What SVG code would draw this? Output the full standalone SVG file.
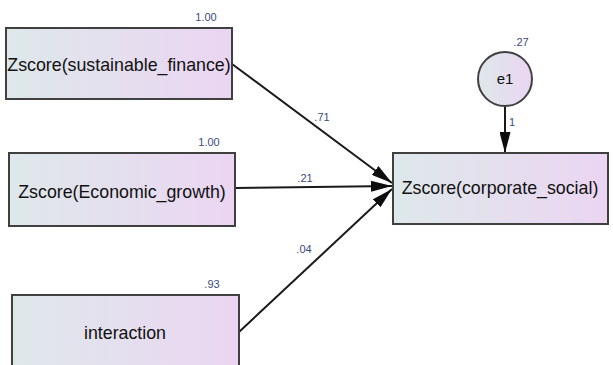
<svg xmlns="http://www.w3.org/2000/svg" width="613" height="365" viewBox="0 0 613 365">
  <defs>
    <linearGradient id="fill" x1="0" y1="0" x2="1" y2="0">
      <stop offset="0" stop-color="#dee8ea"/>
      <stop offset="1" stop-color="#ebd5f2"/>
    </linearGradient>
    <marker id="head" viewBox="0 0 21 11" refX="21" refY="5.5" markerWidth="21" markerHeight="11" markerUnits="userSpaceOnUse" orient="auto">
      <path d="M0,0 L21,5.5 L0,11 Z" fill="#0d0d0d"/>
    </marker>
    <style>
      .box { fill: url(#fill); stroke: #404040; stroke-width: 2; }
      .lbl { font-family: "Liberation Sans", Arial, sans-serif; font-size: 17.8px; fill: #111111; text-anchor: middle; }
      .num { font-family: "Liberation Sans", Arial, sans-serif; font-size: 11px; fill: #3a4c80; text-anchor: middle; }
      .edge { stroke: #1a1a1a; stroke-width: 2; fill: none; marker-end: url(#head); }
    </style>
  </defs>
  <rect width="613" height="365" fill="#ffffff"/>

  <g id="connectors">
    <line class="edge" x1="232" y1="64" x2="392" y2="183"/>
    <line class="edge" x1="235" y1="188" x2="392" y2="186"/>
    <line class="edge" x1="239" y1="332" x2="392" y2="189"/>
    <line class="edge" x1="505" y1="106" x2="505" y2="153"/>
    <text class="num" x="322" y="121">.71</text>
    <text class="num" x="305" y="182">.21</text>
    <text class="num" x="304" y="253">.04</text>
    <text class="num" x="512" y="126">1</text>
  </g>

  <g id="sustainable_finance">
    <rect class="box" x="6" y="28" width="226" height="71"/>
    <text class="lbl" x="119" y="71">Zscore(sustainable_finance)</text>
    <text class="num" x="206" y="21">1.00</text>
  </g>

  <g id="economic_growth">
    <rect class="box" x="9" y="153" width="226" height="73"/>
    <text class="lbl" x="122" y="198">Zscore(Economic_growth)</text>
    <text class="num" x="209" y="146">1.00</text>
  </g>

  <g id="interaction">
    <rect class="box" x="12" y="295" width="227" height="80"/>
    <text class="lbl" x="125" y="339">interaction</text>
    <text class="num" x="212" y="288">.93</text>
  </g>

  <g id="corporate_social">
    <rect class="box" x="393" y="153" width="215" height="71"/>
    <text class="lbl" x="500" y="194">Zscore(corporate_social)</text>
  </g>

  <g id="e1">
    <circle class="box" cx="505" cy="79" r="27"/>
    <text class="lbl" x="505" y="84" style="font-size:15px">e1</text>
    <text class="num" x="521" y="46">.27</text>
  </g>
</svg>
